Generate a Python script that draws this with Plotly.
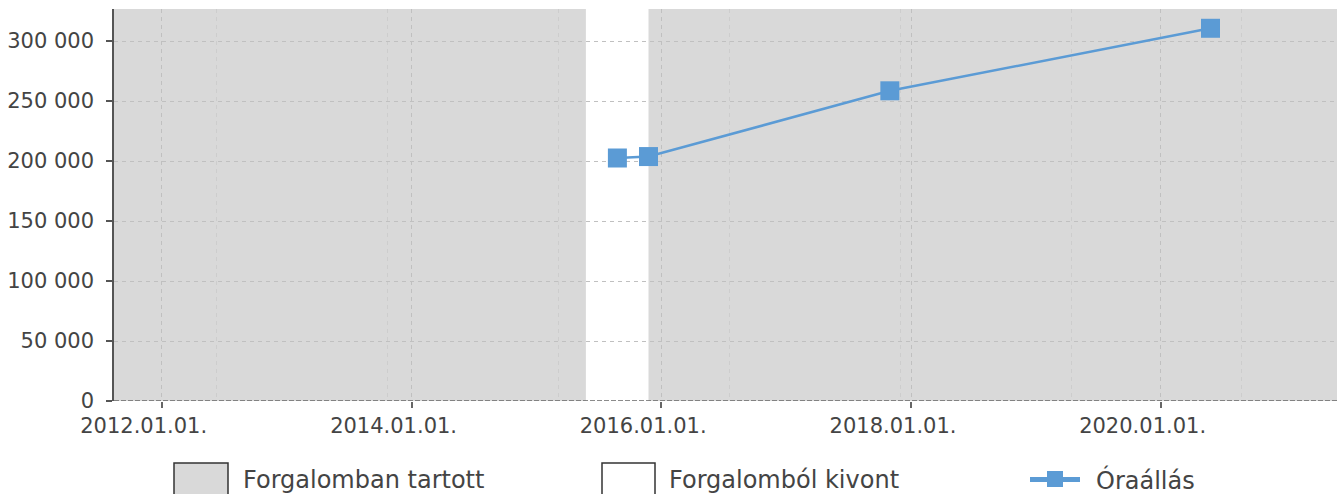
import plotly.graph_objects as go

# ---- data ----
reading_dates = ["2015-08-26", "2015-11-25", "2017-10-31", "2020-05-26"]
readings = [202500, 203700, 258500, 310600]

status_starts = ["2011-08-14", "2015-05-26", "2015-11-25"]
status_ends = ["2015-05-26", "2015-11-25", "2021-05-31"]
status_kinds = ["in", "out", "in"]

x_range = ["2011-08-14 12:00", "2021-05-31"]
y_range = [0, 326667]

x_tick_vals = ["2012-01-01", "2014-01-01", "2016-01-01", "2018-01-01", "2020-01-01"]
x_tick_text = ["2012.01.01.", "2014.01.01.", "2016.01.01.", "2018.01.01.", "2020.01.01."]
y_tick_vals = [0, 50000, 100000, 150000, 200000, 250000, 300000]
y_tick_text = ["0", "50 000", "100 000", "150 000", "200 000", "250 000", "300 000"]

legend_labels = ["Forgalomban tartott", "Forgalomból kivont", "Óraállás"]

# ---- style ----
BLUE = "#5b9bd5"
GRAY = "#d9d9d9"
TEXT = "#444444"
FONT = "DejaVu Sans"
W, H = 1337, 494
ML, MR, MT, MB = 114, 0, 9, 93
PW, PH = W - ML - MR, H - MT - MB


def px(xp):
    return (xp - ML) / PW


def py(yp):
    return (H - MB - yp) / PH


fig = go.Figure()

fig.add_trace(go.Scatter(
    x=reading_dates, y=readings, mode="lines+markers",
    line=dict(color=BLUE, width=2.5),
    marker=dict(symbol="square", size=19, color=BLUE, line=dict(width=0)),
    name=legend_labels[2], showlegend=False, hoverinfo="x+y",
))

shapes = []
for s, e, k in zip(status_starts, status_ends, status_kinds):
    shapes.append(dict(
        type="rect", xref="x", yref="y", x0=s, x1=e, y0=y_range[0], y1=y_range[1],
        fillcolor=GRAY if k == "in" else "white", line=dict(width=0), layer="below",
    ))

# dashed baseline
shapes.append(dict(type="line", xref="paper", yref="y", x0=0, x1=1, y0=0, y1=0,
                   line=dict(color="#666666", width=1.5, dash="5px,2px"), layer="above"))

# custom legend
box_y0, box_y1 = py(463), py(500)
shapes.append(dict(type="rect", xref="paper", yref="paper", x0=px(174), x1=px(228),
                   y0=box_y1, y1=box_y0, fillcolor=GRAY, line=dict(color="#333333", width=1.5)))
shapes.append(dict(type="rect", xref="paper", yref="paper", x0=px(602), x1=px(655),
                   y0=box_y1, y1=box_y0, fillcolor="white", line=dict(color="#333333", width=1.5)))
shapes.append(dict(type="line", xref="paper", yref="paper", x0=px(1030), x1=px(1080),
                   y0=py(479.5), y1=py(479.5), line=dict(color=BLUE, width=5)))
shapes.append(dict(type="rect", xref="paper", yref="paper", x0=px(1047), x1=px(1063),
                   y0=py(487), y1=py(471), fillcolor=BLUE, line=dict(width=0)))

annotations = []
for xp, lab in zip([241, 667, 1094], legend_labels):
    annotations.append(dict(
        xref="paper", yref="paper", x=px(xp), y=py(480), text=lab, showarrow=False,
        xanchor="left", yanchor="middle", font=dict(family=FONT, size=24, color=TEXT),
    ))

fig.update_layout(
    width=W, height=H,
    margin=dict(l=ML, r=MR, t=MT, b=MB, pad=0),
    paper_bgcolor="white", plot_bgcolor="white",
    shapes=shapes, annotations=annotations, showlegend=False,
    font=dict(family=FONT, size=21, color=TEXT),
    xaxis=dict(
        type="date", range=x_range,
        tickmode="array", tickvals=x_tick_vals, ticktext=x_tick_text,
        ticks="outside", ticklen=6, tickcolor="#666666", tickwidth=1.5,
        ticklabelshift=-18,
        showgrid=True, gridcolor="#c0c0c0", griddash="4px,4px", gridwidth=1,
        minor=dict(dtick=500 * 86400000, tick0="2012-06-09", showgrid=True,
                   gridcolor="#cdcdcd", griddash="4px,4px", gridwidth=1, ticks=""),
        showline=False, zeroline=False,
        tickfont=dict(family=FONT, size=21, color=TEXT),
    ),
    yaxis=dict(
        range=y_range, tickmode="array", tickvals=y_tick_vals, ticktext=y_tick_text,
        ticks="outside", ticklen=6, tickcolor="#555555", tickwidth=1.5,
        ticklabelstandoff=8,
        showgrid=True, gridcolor="#c0c0c0", griddash="4px,4px", gridwidth=1,
        showline=True, linecolor="#555555", linewidth=1.5, zeroline=False,
        tickfont=dict(family=FONT, size=21, color=TEXT),
    ),
)

fig.write_html("out.html", config={"displayModeBar": False},
               post_script="document.body.style.margin='0';document.body.style.overflow='hidden';")
